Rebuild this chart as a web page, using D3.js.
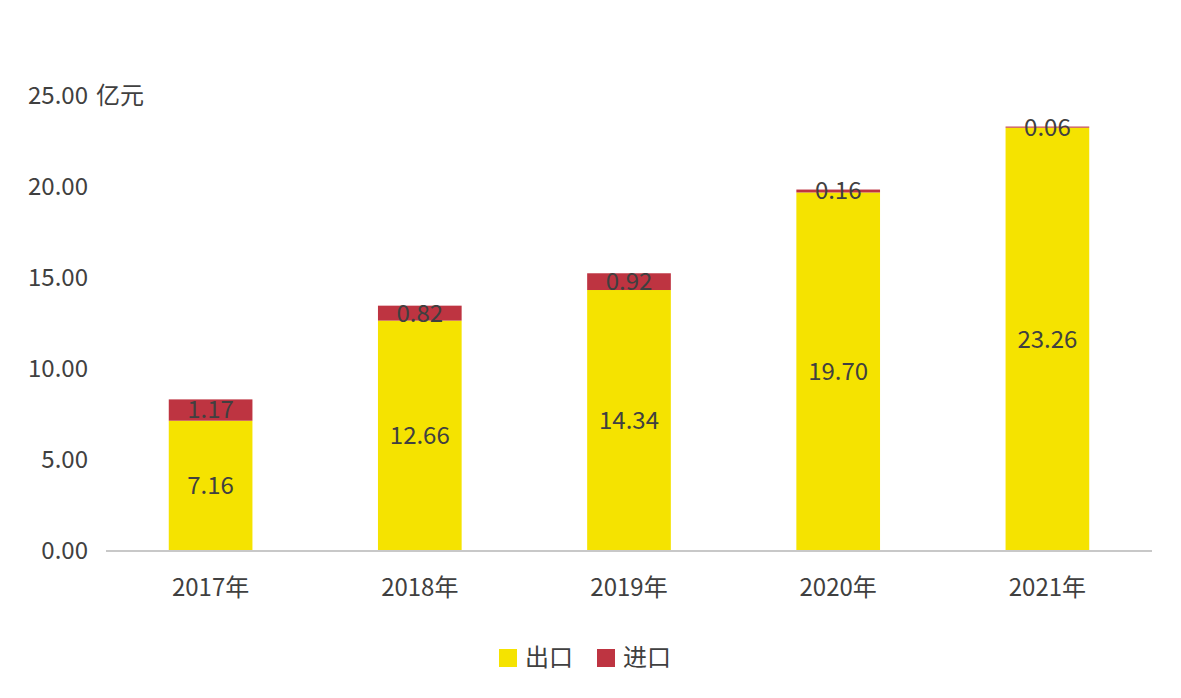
<!DOCTYPE html>
<html><head><meta charset="utf-8">
<script src="https://cdn.jsdelivr.net/npm/d3@7"></script>
<style>body{margin:0;background:#fff}text{font-family:"Noto Sans CJK SC","Noto Sans",sans-serif;fill:#404040}</style>
</head><body><svg id="c" width="1181" height="698"></svg>
<script>
const years = ['2017年', '2018年', '2019年', '2020年', '2021年'];
const exportVals = [7.16, 12.66, 14.34, 19.70, 23.26];
const importVals = [1.17, 0.82, 0.92, 0.16, 0.06];
const yTicks = [0, 5, 10, 15, 20, 25];

const svg = d3.select('#c');
const x = d3.scaleBand().domain(years).range([106, 1152]).paddingInner(0.6).paddingOuter(0.3);
const y = d3.scaleLinear().domain([0, 25]).range([551, 96]);

// y tick labels
svg.selectAll('.yt').data(yTicks).enter().append('text')
  .attr('x', 88).attr('y', d => y(d)).attr('dy', '0.35em')
  .attr('text-anchor', 'end').attr('font-size', 24)
  .text(d => d.toFixed(2));
svg.append('text').attr('x', 96).attr('y', y(25)).attr('dy', '0.35em')
  .attr('font-size', 24).text('亿元');

// bars
const g = svg.append('g');
years.forEach((yr, i) => {
  const e = exportVals[i], m = importVals[i];
  g.append('rect').attr('x', x(yr)).attr('width', x.bandwidth())
    .attr('y', y(e)).attr('height', y(0) - y(e)).attr('fill', '#F5E300');
  g.append('rect').attr('x', x(yr)).attr('width', x.bandwidth())
    .attr('y', y(e + m)).attr('height', y(e) - y(e + m)).attr('fill', '#BE3441');
  g.append('text').attr('x', x(yr) + x.bandwidth() / 2).attr('y', y(e / 2)).attr('dy', '0.35em')
    .attr('text-anchor', 'middle').attr('font-size', 24).text(e.toFixed(2));
  g.append('text').attr('x', x(yr) + x.bandwidth() / 2).attr('y', y(e + m / 2)).attr('dy', '0.35em')
    .attr('text-anchor', 'middle').attr('font-size', 24).text(m.toFixed(2));
});

// x axis
svg.append('line').attr('x1', 106).attr('x2', 1152).attr('y1', y(0)).attr('y2', y(0))
  .attr('stroke', '#c8c8c8').attr('stroke-width', 2);
svg.selectAll('.xt').data(years).enter().append('text')
  .attr('x', d => x(d) + x.bandwidth() / 2).attr('y', 588).attr('dy', '0.35em')
  .attr('text-anchor', 'middle').attr('font-size', 24).text(d => d);

// legend
const legend = [['出口', '#F5E300', 499], ['进口', '#BE3441', 597]];
legend.forEach(([t, c, lx]) => {
  svg.append('rect').attr('x', lx).attr('y', 649).attr('width', 18).attr('height', 18).attr('fill', c);
  svg.append('text').attr('x', lx + 26).attr('y', 658).attr('dy', '0.35em').attr('font-size', 24).text(t);
});
</script></body></html>
